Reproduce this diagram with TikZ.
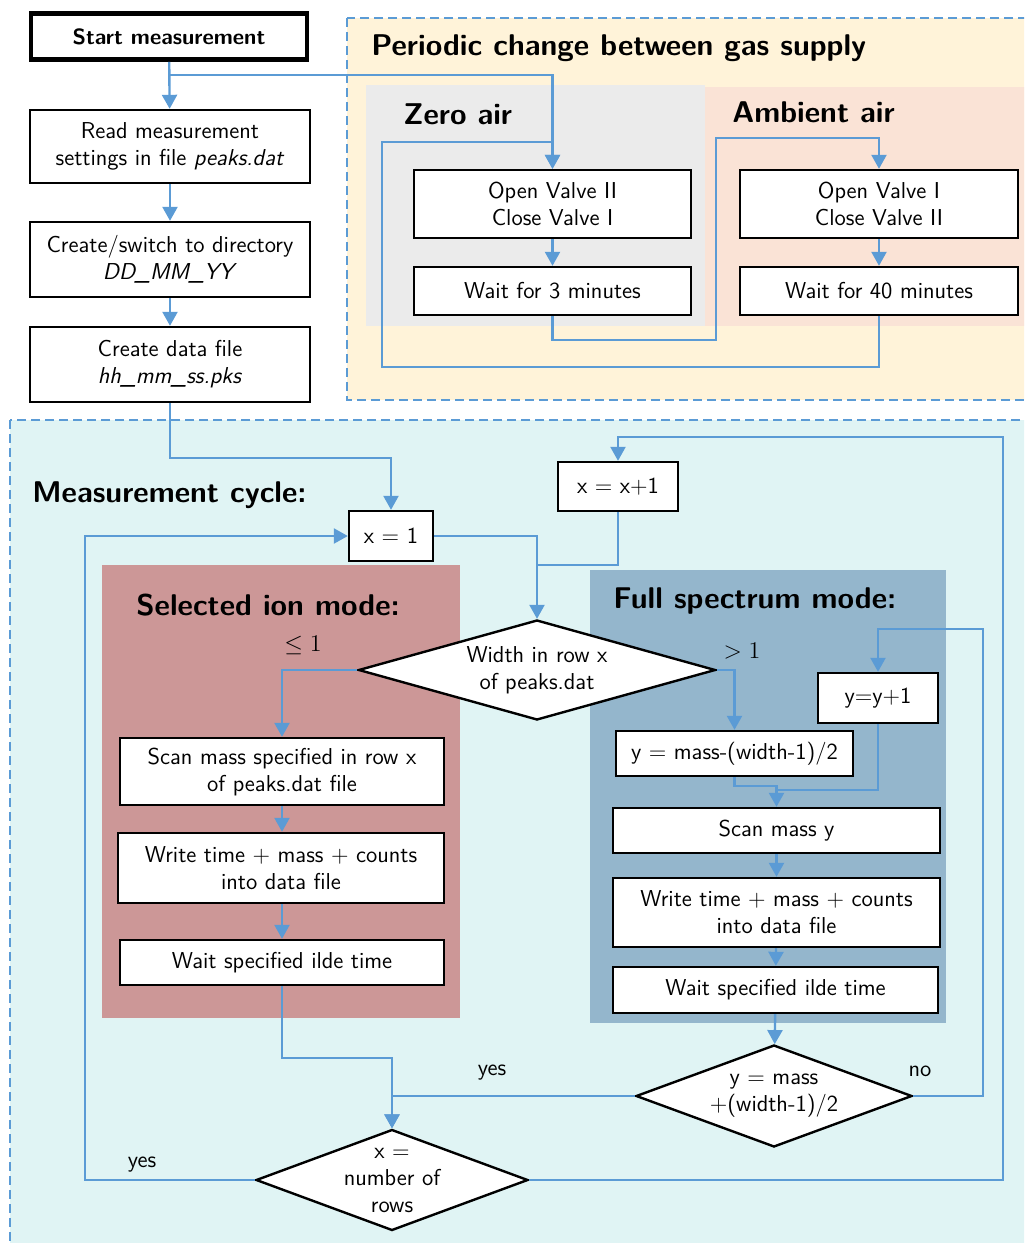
\documentclass[tikz,border=0pt]{standalone}
\usepackage{fontspec}
\usetikzlibrary{arrows.meta,shapes.geometric}
\definecolor{lblue}{RGB}{91,155,213}
\definecolor{bgyellow}{RGB}{255,243,217}
\definecolor{bggray}{RGB}{235,235,235}
\definecolor{bgpeach}{RGB}{250,227,214}
\definecolor{bgcyan}{RGB}{224,244,244}
\definecolor{bgrose}{RGB}{204,151,151}
\definecolor{bgsteel}{RGB}{148,182,204}
\tikzset{
  box/.style={draw=black, line width=1.2pt, fill=white, align=center, inner sep=1pt,
    font=\sffamily\fontsize{11.5}{13.5}\selectfont},
  arr/.style={draw=lblue, line width=1.2pt, -{Triangle[width=7.5pt,length=7pt]}},
  ln/.style={draw=lblue, line width=1.2pt},
  ttl/.style={font=\sffamily\bfseries\fontsize{15}{18}\selectfont, anchor=west, inner sep=0pt},
  lbl/.style={font=\sffamily\fontsize{11.5}{13.5}\selectfont, inner sep=0pt},
  dia/.style={diamond, draw=black, line width=1.2pt, fill=white, inner sep=0pt},
  dlbl/.style={label={[align=center, font=\sffamily\fontsize{11.5}{13.5}\selectfont]center:#1}},
  region/.style={draw=lblue, line width=1.1pt, dash pattern=on 4.5pt off 2.5pt},
}
\begin{document}
\begin{tikzpicture}[x=0.5pt, y=-0.5pt]
\useasboundingbox (0,0) rectangle (1024,1243);
\clip (0,0) rectangle (1024,1243);
% regions
\path[region, fill=bgyellow] (347,18) rectangle (1040,400);
\fill[bggray] (366,85) rectangle (705,326);
\fill[bgpeach] (705,87) rectangle (1040,326);
\path[region, fill=bgcyan] (10,420) rectangle (1040,1260);
\fill[bgrose] (102,565) rectangle (460,1018);
\fill[bgsteel] (590,570) rectangle (946,1023);
% titles
\node[ttl] (tper) at (371,48) {Periodic change between gas supply};
\node[ttl] (tzero) at (403,114) {Zero air};
\node[ttl] (tamb) at (732,112) {Ambient air};
\node[ttl] (tmeas) at (32,495) {Measurement cycle:};
\node[ttl] (tsel) at (136,605) {Selected ion mode:};
\node[ttl] (tfull) at (613,601) {Full spectrum mode:};
% left column
\node[box, line width=2.4pt, minimum width=138pt, minimum height=23pt, font=\sffamily\bfseries\fontsize{11}{13.5}\selectfont] (start) at (169,36.5) {Start measurement};
\node[box, minimum width=140pt, minimum height=36.5pt] (read) at (170,146.5) {Read measurement\\settings in file \textit{peaks.dat}};
\node[box, minimum width=140pt, minimum height=37.5pt] (dir) at (170,259.5) {Create/switch to directory\\\textit{DD\_MM\_YY}};
\node[box, minimum width=140pt, minimum height=37.5pt] (file) at (170,364.5) {Create data file\\\textit{hh\_mm\_ss.pks}};
% gas supply
\node[box, minimum width=138.5pt, minimum height=34pt] (ov2) at (552.5,204) {Open Valve II\\Close Valve I};
\node[box, minimum width=138.5pt, minimum height=24pt] (w3) at (552.5,291) {Wait for 3 minutes};
\node[box, minimum width=139pt, minimum height=34pt] (ov1) at (879,204) {Open Valve I\\Close Valve II};
\node[box, minimum width=139pt, minimum height=24pt] (w40) at (879,291) {Wait for 40 minutes};
% measurement cycle
\node[box, minimum width=42pt, minimum height=25pt] (x1) at (391,536) {x = 1};
\node[box, minimum width=60pt, minimum height=24.5pt] (xp1) at (618,486.5) {x = x+1};
\node[dia, minimum width=178.5pt, minimum height=50pt, dlbl={Width in row x\\of peaks.dat}] (wd) at (537,670) {};
\node[box, minimum width=162pt, minimum height=33.5pt] (scanL) at (282,771.5) {Scan mass specified in row x\\of peaks.dat file};
\node[box, minimum width=163pt, minimum height=35pt] (writeL) at (281,868) {Write time + mass + counts\\into data file};
\node[box, minimum width=162pt, minimum height=22.5pt] (waitL) at (282,962.5) {Wait specified ilde time};
\node[box, minimum width=60pt, minimum height=25pt] (yp1) at (878,698) {y=y+1};
\node[box, minimum width=118.5pt, minimum height=22.5pt] (ymass) at (734.5,753.5) {y = mass-(width-1)/2};
\node[box, minimum width=163.5pt, minimum height=22.5pt] (scanY) at (776.5,830.5) {Scan mass y};
\node[box, minimum width=163.5pt, minimum height=34.5pt] (writeR) at (776.5,912.5) {Write time + mass + counts\\into data file};
\node[box, minimum width=162.5pt, minimum height=23pt] (waitR) at (775.5,990) {Wait specified ilde time};
\node[dia, minimum width=138pt, minimum height=51pt, dlbl={y = mass\\+(width-1)/2}] (yd) at (774,1096) {};
\node[dia, minimum width=136pt, minimum height=50.5pt, dlbl={x =\\number of\\rows}] (xn) at (392,1180) {};
% labels
\node[lbl] (lle) at (303,645) {$\leq 1$};
\node[lbl] (lgt) at (742,651) {$>1$};
\node[lbl] (lyes1) at (492,1073) {yes};
\node[lbl] (lyes2) at (142,1165) {yes};
\node[lbl] (lno) at (920,1071) {no};
% connectors: left column
\coordinate (b1) at (170,75);
\draw[arr] (start) -- (read);
\draw[arr] (b1) -| (ov2.north);
\draw[arr] (read) -- (dir);
\draw[arr] (dir) -- (file);
% gas supply loop
\draw[arr] (ov2) -- (w3);
\draw[arr] (ov1) -- (w40);
\draw[arr] (w3.south) -- (w3.south |- 0,340) -- (716,340) -- (716,138) -- (ov1.north |- 0,138) -- (ov1.north);
\draw[arr] (w40.south) -- (w40.south |- 0,367) -- (382,367) -- (382,142) -- (ov2.north |- 0,142) -- (ov2.north);
% measurement cycle
\draw[arr] (file.south) -- (file.south |- 0,458) -| (x1.north);
\draw[arr] (x1.east) -| (wd.north);
\draw[ln] (xp1.south) -- (xp1.south |- 0,565) -- (wd.north |- 0,565);
\draw[arr] (wd.west) -| (scanL.north);
\draw[arr] (wd.east) -| (ymass.north);
\draw[arr] (scanL) -- (writeL.north -| scanL.south);
\draw[arr] (writeL.south -| waitL.north) -- (waitL);
\draw[arr] (waitL.south) -- (waitL.south |- 0,1058) -| (xn.north);
\draw[arr] (ymass.south) -- (ymass.south |- 0,786) -| (scanY.north);
\draw[ln] (yp1.south) -- (yp1.south |- 0,790) -- (scanY.north |- 0,790);
\draw[arr] (scanY) -- (writeR);
\draw[arr] (writeR) -- (waitR);
\draw[arr] (waitR) -- (yd);
\draw[arr] (yd.west) -| (xn.north);
\draw[arr] (yd.east) -- (983,1096) -- (983,629) -| (yp1.north);
\draw[arr] (xn.west) -- (85,1180) |- (x1.west);
\draw[arr] (xn.east) -- (1003,1180) -- (1003,437) -| (xp1.north);
\end{tikzpicture}
\end{document}
